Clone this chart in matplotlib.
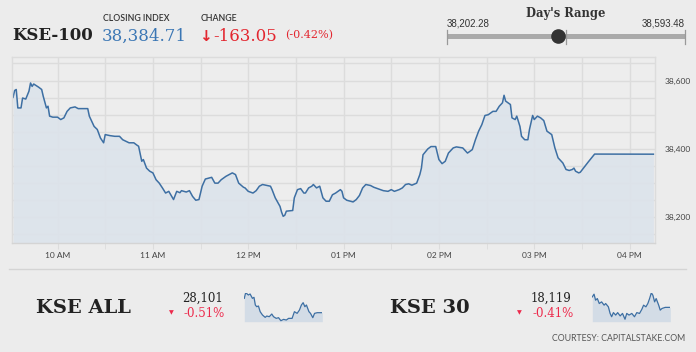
import pandas as pd
import matplotlib
matplotlib.use("Agg")
import matplotlib.pyplot as plt
import matplotlib.dates as mdates
from matplotlib.lines import Line2D
from matplotlib.ticker import MultipleLocator, FuncFormatter

# --- data ---
index_name = "KSE-100"
closing_index = 38384.71
change = -163.05
change_pct = -0.42
day_low = 38202.28
day_high = 38593.48

kse100_times = [
    "09:32", "09:33", "09:34", "09:35", "09:37", "09:38", "09:40", "09:42", "09:43", "09:44",
    "09:45", "09:48", "09:50", "09:51", "09:53", "09:54", "09:55", "09:57", "10:00", "10:02",
    "10:04", "10:06", "10:08", "10:11", "10:13", "10:19", "10:20", "10:23", "10:25", "10:27",
    "10:29", "10:30", "10:33", "10:36", "10:39", "10:41", "10:45", "10:48", "10:50", "10:51",
    "10:53", "10:54", "10:56", "10:58", "11:00", "11:02", "11:04", "11:06", "11:08", "11:10",
    "11:13", "11:15", "11:17", "11:18", "11:21", "11:23", "11:25", "11:27", "11:29", "11:31",
    "11:33", "11:37", "11:39", "11:41", "11:43", "11:46", "11:50", "11:52", "11:54", "11:57",
    "11:58", "12:00", "12:03", "12:05", "12:07", "12:09", "12:11", "12:14", "12:15", "12:17",
    "12:20", "12:21", "12:22", "12:23", "12:24", "12:28", "12:29", "12:31", "12:33", "12:35",
    "12:36", "12:38", "12:40", "12:41", "12:43", "12:45", "12:47", "12:49", "12:51", "12:53",
    "12:55", "12:58", "12:59", "13:00", "13:02", "13:06", "13:08", "13:10", "13:12", "13:14",
    "13:17", "13:19", "13:22", "13:25", "13:28", "13:30", "13:32", "13:35", "13:37", "13:39",
    "13:41", "13:43", "13:46", "13:48", "13:49", "13:50", "13:53", "13:55", "13:58", "14:00",
    "14:02", "14:04", "14:06", "14:09", "14:11", "14:15", "14:18", "14:21", "14:23", "14:25",
    "14:27", "14:29", "14:31", "14:34", "14:36", "14:38", "14:40", "14:41", "14:42", "14:45",
    "14:46", "14:48", "14:49", "14:51", "14:52", "14:54", "14:56", "14:57", "14:59", "15:00",
    "15:02", "15:04", "15:06", "15:08", "15:11", "15:13", "15:15", "15:18", "15:20", "15:22",
    "15:24", "15:25", "15:26", "15:28", "15:29", "15:31", "15:34", "15:38", "16:15",
]
kse100_values = [
    38551, 38571, 38574, 38520, 38520, 38549, 38546, 38569, 38593, 38583,
    38590, 38581, 38574, 38554, 38520, 38525, 38496, 38493, 38493, 38486,
    38491, 38510, 38520, 38523, 38518, 38518, 38496, 38466, 38457, 38432,
    38418, 38442, 38439, 38437, 38437, 38427, 38418, 38418, 38411, 38408,
    38364, 38369, 38344, 38335, 38330, 38310, 38300, 38286, 38271, 38276,
    38252, 38276, 38272, 38278, 38274, 38278, 38261, 38250, 38252, 38291,
    38312, 38317, 38300, 38300, 38310, 38320, 38330, 38325, 38300, 38288,
    38286, 38276, 38271, 38278, 38291, 38296, 38294, 38291, 38281, 38257,
    38232, 38215, 38203, 38206, 38218, 38220, 38257, 38281, 38284, 38271,
    38271, 38286, 38291, 38296, 38286, 38291, 38257, 38247, 38247, 38266,
    38271, 38281, 38276, 38257, 38250, 38245, 38252, 38264, 38286, 38296,
    38293, 38288, 38283, 38278, 38276, 38281, 38276, 38281, 38286, 38296,
    38298, 38294, 38300, 38325, 38344, 38383, 38400, 38407, 38407, 38369,
    38357, 38364, 38388, 38403, 38406, 38403, 38388, 38398, 38427, 38452,
    38471, 38498, 38500, 38510, 38510, 38525, 38535, 38557, 38540, 38530,
    38491, 38486, 38496, 38466, 38437, 38427, 38427, 38457, 38498, 38486,
    38496, 38491, 38483, 38452, 38442, 38403, 38374, 38359, 38340, 38337,
    38340, 38344, 38335, 38330, 38332, 38344, 38362, 38385, 38384.71,
]

kse_all_name = "KSE ALL"
kse_all_close = "28,101"
kse_all_pct = "-0.51%"
kse_all_times = [
    "09:32", "09:39", "09:53", "10:02", "10:14", "10:22", "10:29", "10:36", "10:45", "10:54",
    "11:06", "11:20", "11:28", "11:41", "11:54", "12:03", "12:17", "12:29", "12:41", "12:55",
    "13:09", "13:21", "13:39", "13:51", "14:05", "14:17", "14:27", "14:36", "14:45", "14:53",
    "15:06", "15:14", "15:26", "15:35", "15:49", "16:15",
]
kse_all_values = [
    28187, 28221, 28207, 28213, 28187, 28193, 28147, 28137, 28141, 28107,
    28087, 28073, 28081, 28077, 28093, 28077, 28067, 28071, 28053, 28061,
    28057, 28067, 28067, 28107, 28097, 28117, 28147, 28161, 28137, 28147,
    28107, 28097, 28071, 28097, 28101, 28101,
]

kse30_name = "KSE 30"
kse30_close = "18,119"
kse30_pct = "-0.41%"
kse30_times = [
    "09:32", "09:41", "09:49", "09:58", "10:08", "10:20", "10:33", "10:41", "10:55", "11:04",
    "11:12", "11:21", "11:33", "11:43", "11:56", "12:08", "12:21", "12:30", "12:42", "12:56",
    "13:10", "13:22", "13:36", "13:48", "13:57", "14:09", "14:19", "14:28", "14:37", "14:45",
    "14:54", "15:02", "15:15", "15:23", "15:32", "15:49", "16:15",
]
kse30_values = [
    18157, 18167, 18145, 18151, 18133, 18139, 18127, 18133, 18121, 18097,
    18085, 18100, 18091, 18100, 18088, 18097, 18076, 18097, 18091, 18097,
    18085, 18100, 18097, 18112, 18127, 18121, 18133, 18151, 18172, 18163,
    18139, 18151, 18127, 18109, 18115, 18119, 18119,
]

# --- colours / fonts ---
BG = "#ececec"
GRID = "#dcdcdc"
LINE = "#3d6fa3"
FILL = "#dce3eb"
BLUE = "#3a76b4"
RED = "#e3262f"
PINK = "#ec2a4c"
DARK = "#222222"
SERIF = "DejaVu Serif"
SANS = "Lato"

W, H = 696, 352


def fx(x):
    return x / W


def fy(y):
    return 1 - y / H


def to_dt(times):
    return pd.to_datetime(["2019-01-01 " + t for t in times])


fig = plt.figure(figsize=(W / 100, H / 100), dpi=100, facecolor=BG)

# --- main intraday chart ---
ax = fig.add_axes([fx(12), fy(243.3), fx(655) - fx(12), fy(57) - fy(243.3)])
ax.set_facecolor("#ededed")
t100 = to_dt(kse100_times)
ax.fill_between(t100, kse100_values, 38000, color=FILL, alpha=0.9, lw=0)
ax.plot(t100, kse100_values, color=LINE, lw=1.1)

ax.set_xlim(pd.Timestamp("2019-01-01 09:31:20"), pd.Timestamp("2019-01-01 16:16"))
ax.set_ylim(38124, 38669)
ax.xaxis.set_major_locator(mdates.HourLocator())
ax.xaxis.set_minor_locator(mdates.MinuteLocator(byminute=[30]))
ax.xaxis.set_major_formatter(mdates.DateFormatter("%I %p"))
ax.yaxis.set_major_locator(MultipleLocator(200))
ax.yaxis.set_minor_locator(MultipleLocator(50))
ax.yaxis.set_major_formatter(FuncFormatter(lambda v, p: f"{v:,.0f}"))
ax.yaxis.tick_right()
ax.grid(True, which="both", color=GRID, lw=1)
ax.set_axisbelow(True)
ax.tick_params(axis="x", which="both", length=4, color=GRID, labelsize=6, labelcolor="#444444", pad=2)
ax.tick_params(axis="y", which="both", length=0, labelsize=6, labelcolor="#444444", pad=7)
for lab in ax.get_xticklabels() + ax.get_yticklabels():
    lab.set_family(SANS)
for s in ax.spines.values():
    s.set_color(GRID)
    s.set_linewidth(1)
ax.spines["bottom"].set_color("#d4d4d4")

# --- header ---
fig.text(fx(12), fy(40), index_name, family=SERIF, weight="bold", size=12, color=DARK)
fig.text(fx(103), fy(20.7), "CLOSING INDEX", family=SANS, weight="semibold", size=6.3, color="#333333")
fig.text(fx(102), fy(40.7), f"{closing_index:,.2f}", family=SERIF, size=12, color=BLUE)
fig.text(fx(201), fy(20.7), "CHANGE", family=SANS, weight="semibold", size=6.3, color="#333333")
fig.text(fx(199), fy(40.7), "\u2193", family="DejaVu Sans", weight="bold", size=11, color=RED)
fig.text(fx(213), fy(40.7), f"{change:.2f}", family=SERIF, size=12, color=RED)
fig.text(fx(285), fy(38.5), f"({change_pct:.2f}%)", family=SERIF, size=8, color=RED)

# day's range widget
x0, x1, yb = 446.7, 685, 36
fig.text(fx((x0 + x1) / 2), fy(17), "Day's Range", family=SERIF, weight="bold", size=8.3,
         color="#333333", ha="center")
fig.text(fx(x0), fy(26), f"{day_low:,.2f}", family="Liberation Sans", size=7, color="#333333")
fig.text(fx(x1), fy(26), f"{day_high:,.2f}", family="Liberation Sans", size=7, color="#333333",
         ha="right")
fig.add_artist(Line2D([fx(x0), fx(x1)], [fy(yb), fy(yb)], color="#aaaaaa", lw=3.6,
                      transform=fig.transFigure, solid_capstyle="butt"))
for xt in (x0, (x0 + x1) / 2, x1):
    fig.add_artist(Line2D([fx(xt), fx(xt)], [fy(29.5), fy(44)], color="#999999", lw=0.9,
                          transform=fig.transFigure))
xdot = x0 + (closing_index - day_low) / (day_high - day_low) * (x1 - x0)
fig.add_artist(Line2D([fx(xdot)], [fy(yb)], marker="o", ms=9.5, color="#333333",
                      transform=fig.transFigure))

# separator
fig.add_artist(Line2D([fx(9), fx(686)], [fy(269.3), fy(269.3)], color="#d4d4d4", lw=1,
                      transform=fig.transFigure))

# --- bottom: other indices ---
def mini_block(name, name_x, close, pct, tri_x, num_x, spark_x, times, values, ylim):
    fig.text(fx(name_x), fy(313.3), name, family=SERIF, weight="bold", size=14, color=DARK)
    fig.text(fx(num_x), fy(301.7), close, family=SERIF, size=8.5, color=DARK, ha="center")
    fig.text(fx(num_x + 1.5), fy(316.7), pct, family=SERIF, size=8.5, color=PINK, ha="center")
    fig.text(fx(tri_x), fy(313), "\u25bc", family="DejaVu Sans", size=4.5, color=PINK,
             ha="center", va="center")
    sa = fig.add_axes([fx(spark_x), fy(321.7), fx(78), fy(292.5) - fy(321.7)])
    tt = to_dt(times)
    sa.fill_between(tt, values, ylim[0], color="#d3dce6", lw=0)
    sa.plot(tt, values, color=LINE, lw=0.9)
    sa.set_xlim(tt[0], tt[-1])
    sa.set_ylim(*ylim)
    sa.axis("off")


mini_block(kse_all_name, 36, kse_all_close, kse_all_pct, 171.7, 202.7, 244.3,
           kse_all_times, kse_all_values, (28047, 28222))
mini_block(kse30_name, 390, kse30_close, kse30_pct, 519.3, 551.3, 592.3,
           kse30_times, kse30_values, (18067, 18173))

fig.text(fx(685.7), fy(340.7), "COURTESY: CAPITALSTAKE.COM", family=SANS, size=6.3,
         color="#555555", ha="right")

fig.savefig("out.png", dpi=100, facecolor=BG)
